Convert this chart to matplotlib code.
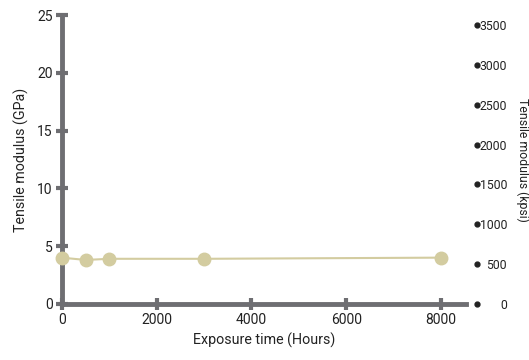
import numpy as np
import matplotlib
matplotlib.use("Agg")
import matplotlib.pyplot as plt
import matplotlib.transforms as mtransforms

hours = [0, 500, 1000, 3000, 8000]
modulus_gpa = [4.0, 3.8, 3.9, 3.9, 4.0]
x_ticks = [0, 2000, 4000, 6000, 8000]
y_ticks = [0, 5, 10, 15, 20, 25]
kpsi_ticks = [0, 500, 1000, 1500, 2000, 2500, 3000, 3500]
KPSI_PER_GPA = 145.038

AXIS = "#6e6e72"
LINE = "#d3cca0"
TXT = "#222222"

plt.rcParams["font.family"] = ["Roboto", "DejaVu Sans"]

fig = plt.figure(figsize=(5.29, 3.6), dpi=100)
ax = fig.add_axes([0.117, 0.156, 0.764, 0.802])

ax.plot(hours, modulus_gpa, color=LINE, lw=1.5, marker="o", ms=9,
        mfc=LINE, mec=LINE, clip_on=False, zorder=3)

ax.set_xlim(0, 8530)
ax.set_ylim(0, 25)
ax.set_xticks(x_ticks)
ax.set_yticks(y_ticks)

for side in ["top", "right"]:
    ax.spines[side].set_visible(False)
for side in ["left", "bottom"]:
    ax.spines[side].set_color(AXIS)
    ax.spines[side].set_linewidth(3.5)
ax.tick_params(direction="inout", length=9, width=3, color=AXIS,
               labelsize=10, labelcolor=TXT, pad=2)

ax.set_xlabel("Exposure time (Hours)", fontsize=10.3, color=TXT, labelpad=4)
ax.set_ylabel("Tensile modulus (GPa)", fontsize=10.3, color=TXT, labelpad=6)

# secondary axis in kpsi, with dot tick marks
ax2 = ax.twinx()
ax2.set_ylim(0, 25 * KPSI_PER_GPA)
for side in ["top", "right", "left", "bottom"]:
    ax2.spines[side].set_visible(False)
ax2.tick_params(length=0, labelsize=8.8, labelcolor=TXT, pad=29.5)
ax2.set_yticks(kpsi_ticks, labels=[str(v) for v in kpsi_ticks], ha="right")

dot_tr = mtransforms.blended_transform_factory(ax2.transAxes, ax2.transData)
ax2.plot([1.027] * len(kpsi_ticks), kpsi_ticks, "o", ms=3.5, color=TXT,
         transform=dot_tr, clip_on=False)

ax2.set_ylabel("Tensile modulus (kpsi)", fontsize=8.8, color=TXT,
               rotation=-90, va="center")
ax2.yaxis.set_label_coords(1.139, 0.5)

fig.savefig("out.png", dpi=100)
